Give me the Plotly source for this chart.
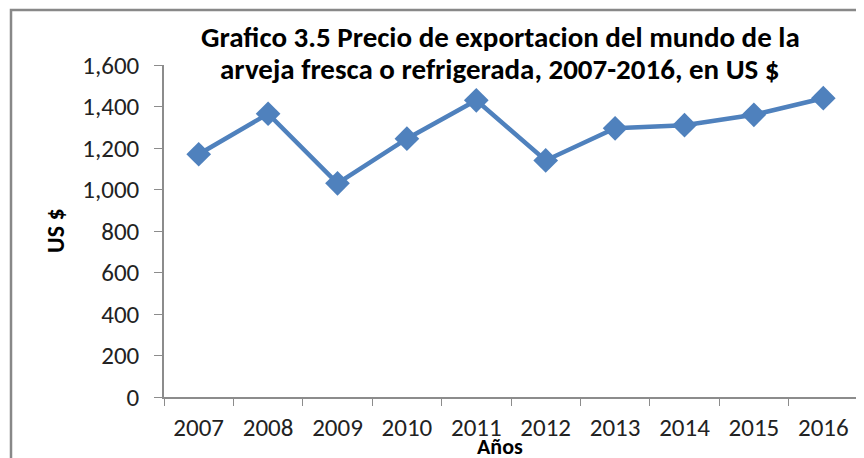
import plotly.graph_objects as go

anios = ['2007', '2008', '2009', '2010', '2011', '2012', '2013', '2014', '2015', '2016']
precio = [1170, 1365, 1030, 1245, 1430, 1140, 1295, 1310, 1360, 1440]
ticks_y = [0, 200, 400, 600, 800, 1000, 1200, 1400, 1600]
titulo = ['Grafico 3.5 Precio de exportacion del mundo de la',
          'arveja fresca o refrigerada, 2007-2016, en US $']

fuente = 'Carlito, Calibri, Liberation Sans Narrow, Open Sans, sans-serif'
azul = '#4F81BD'
gris = '#8C8C8C'

# la pagina deja 8px de margen en el body: la figura se dibuja desplazada
W, H = 856, 450


def px_x(x):
    """pixel de la imagen de referencia -> coordenada paper"""
    return (x - 164) / 694


def px_y(y):
    return (397 - y) / 332


fig = go.Figure()
fig.add_trace(go.Scatter(
    x=anios, y=precio, mode='lines+markers',
    line=dict(color=azul, width=4.5),
    marker=dict(symbol='diamond', size=19, color=azul),
))

fig.update_layout(
    width=W, height=H,
    margin=dict(l=156, r=6, t=57, b=61),
    paper_bgcolor='white', plot_bgcolor='white',
    showlegend=False,
    font=dict(family=fuente, size=25, color='#222222'),
)

fig.update_xaxes(
    type='category', range=[-0.5, 9.5], tickson='boundaries',
    showline=True, linecolor=gris, linewidth=1.5,
    ticks='outside', ticklen=7, tickcolor=gris, ticklabelstandoff=7,
    showgrid=False, zeroline=False,
)
fig.update_yaxes(
    range=[0, 1600], tickvals=ticks_y, tickformat=',',
    showline=True, linecolor=gris, linewidth=1.5,
    ticks='outside', ticklen=8, tickcolor=gris, ticklabelstandoff=10,
    showgrid=False, zeroline=False,
)

for linea, cy in zip(titulo, [37, 69]):
    fig.add_annotation(text='<b>' + linea + '</b>', xref='paper', yref='paper',
                       x=px_x(500), y=px_y(cy), xanchor='center', yanchor='middle',
                       showarrow=False, font=dict(family=fuente, size=29, color='black'))

fig.add_annotation(text='<b>US $</b>', xref='paper', yref='paper',
                   x=px_x(55), y=px_y(231), textangle=-90,
                   xanchor='center', yanchor='middle',
                   showarrow=False, font=dict(family=fuente, size=24, color='black'))
fig.add_annotation(text='<b>Años</b>', xref='paper', yref='paper',
                   x=px_x(500), y=px_y(446), xanchor='center', yanchor='middle',
                   showarrow=False, font=dict(family=fuente, size=22, color='black'))

# borde del area del grafico
fig.add_shape(type='rect', xref='paper', yref='paper',
              x0=px_x(11), x1=1.2, y0=-0.5, y1=px_y(10),
              line=dict(color='#888888', width=2.5))

fig.write_html('out.html')
